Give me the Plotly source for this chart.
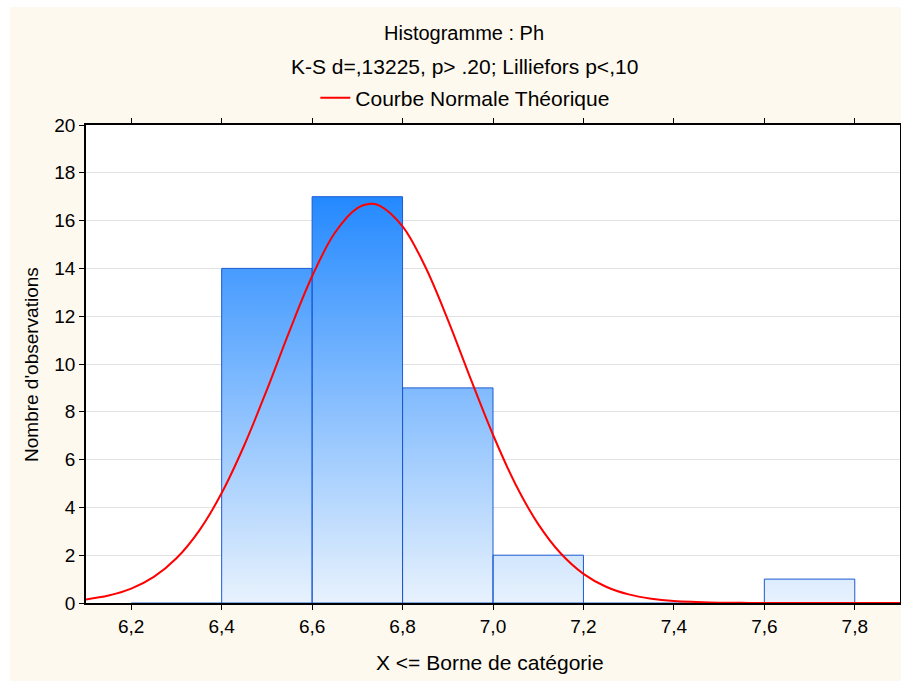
import plotly.graph_objects as go

# ---------------- data ----------------
bin_left = [6.2, 6.4, 6.6, 6.8, 7.0, 7.2, 7.4, 7.6]
bin_right = [6.4, 6.6, 6.8, 7.0, 7.2, 7.4, 7.6, 7.8]
counts = [0, 14, 17, 9, 2, 0, 0, 1]

# theoretical normal curve
curve_x = [6.10, 6.15, 6.20, 6.25, 6.30, 6.35, 6.40, 6.45, 6.50, 6.55, 6.60,
           6.65, 6.70, 6.73, 6.75, 6.80, 6.85, 6.90, 6.95, 7.00, 7.05, 7.10,
           7.15, 7.20, 7.25, 7.30, 7.35, 7.40, 7.45, 7.50, 7.55, 7.60, 7.70,
           7.80, 7.90]
curve_y = [0.15, 0.31, 0.60, 1.09, 1.87, 3.02, 4.60, 6.60, 8.92, 11.38, 13.67,
           15.48, 16.52, 16.70, 16.62, 15.76, 14.08, 11.86, 9.41, 7.04, 4.96, 3.30,
           2.07, 1.22, 0.68, 0.36, 0.18, 0.08, 0.04, 0.015, 0.006, 0.002, 0.0,
           0.0, 0.0]

x_tickvals = [6.2, 6.4, 6.6, 6.8, 7.0, 7.2, 7.4, 7.6, 7.8]
x_ticktext = ["6,2", "6,4", "6,6", "6,8", "7,0", "7,2", "7,4", "7,6", "7,8"]
y_tickvals = [0, 2, 4, 6, 8, 10, 12, 14, 16, 18, 20]

title_1 = "Histogramme : Ph"
title_2 = "K-S d=,13225, p> .20; Lilliefors p<,10"
legend_name = "Courbe Normale Théorique"
x_title = "X <= Borne de catégorie"
y_title = "Nombre d'observations"

# ---------------- figure ----------------
FONT = "Liberation Sans, Arial, sans-serif"
TXT = 20
TICK = 19
fig = go.Figure()

bx, by, zx, zy = [], [], [], []
for l, r, c in zip(bin_left, bin_right, counts):
    if c > 0:
        bx += [l, l, r, r, l, None]
        by += [0, c, c, 0, 0, None]
    else:
        zx += [l, r, None]
        zy += [0, 0, None]

fig.add_trace(go.Scatter(
    x=bx, y=by, mode="lines", fill="toself",
    line=dict(color="#1c5ad4", width=1),
    fillgradient=dict(type="vertical",
                      colorscale=[[0, "#e8f2fd"], [1, "#2489ff"]],
                      start=0, stop=max(counts)),
    showlegend=False, hoverinfo="skip"))

fig.add_trace(go.Scatter(
    x=zx, y=zy, mode="lines", line=dict(color="#1c5ad4", width=1),
    showlegend=False, hoverinfo="skip"))

fig.add_trace(go.Scatter(
    x=curve_x, y=curve_y, mode="lines", line=dict(color="#ff0000", width=2, shape="spline"),
    name=legend_name, showlegend=True))

fig.update_layout(
    width=901, height=681,
    margin=dict(l=86, r=1, t=125, b=78, autoexpand=False),
    paper_bgcolor="#fef9ee",
    plot_bgcolor="#ffffff",
    font=dict(family=FONT, size=TXT, color="#000000"),
    showlegend=True,
    legend=dict(orientation="h", x=0.466, xanchor="center", y=1.0565, yanchor="middle",
                bgcolor="rgba(0,0,0,0)", font=dict(size=21), itemwidth=30),
    xaxis=dict(range=[6.1, 7.9], tickvals=x_tickvals, ticktext=x_ticktext,
               showgrid=False, zeroline=False, showline=True, linecolor="#000000",
               linewidth=1.5, mirror="ticks", ticks="outside", ticklen=5,
               tickcolor="#000000", tickfont=dict(size=TICK), automargin=False),
    yaxis=dict(range=[0, 20], tickvals=y_tickvals, showgrid=True, gridcolor="#e2e2e2",
               gridwidth=1, zeroline=False, showline=True, linecolor="#000000",
               linewidth=1.5, mirror="ticks", ticks="outside", ticklen=5,
               tickcolor="#000000", tickfont=dict(size=TICK), automargin=False),
    shapes=[
        dict(type="rect", xref="paper", yref="paper", x0=-0.2, x1=1.1,
             y0=1.2469, y1=1.4, fillcolor="#ffffff", line=dict(width=0), layer="below"),
        dict(type="rect", xref="paper", yref="paper", x0=-0.2, x1=-0.0934,
             y0=-0.3, y1=1.4, fillcolor="#ffffff", line=dict(width=0), layer="below"),
    ],
    annotations=[
        dict(text=title_1, xref="paper", yref="paper", x=0.4644, y=1.1925,
             showarrow=False, xanchor="center", yanchor="middle", font=dict(size=TXT)),
        dict(text=title_2, xref="paper", yref="paper", x=0.4644, y=1.1234,
             showarrow=False, xanchor="center", yanchor="middle", font=dict(size=21)),
        dict(text=x_title, xref="paper", yref="paper", x=0.496, y=-0.1255,
             showarrow=False, xanchor="center", yanchor="middle", font=dict(size=21)),
        dict(text=y_title, xref="paper", yref="paper", x=-0.0663, y=0.498,
             showarrow=False, xanchor="center", yanchor="middle", textangle=-90,
             font=dict(size=19)),
    ],
)

fig.write_html("out.html")
